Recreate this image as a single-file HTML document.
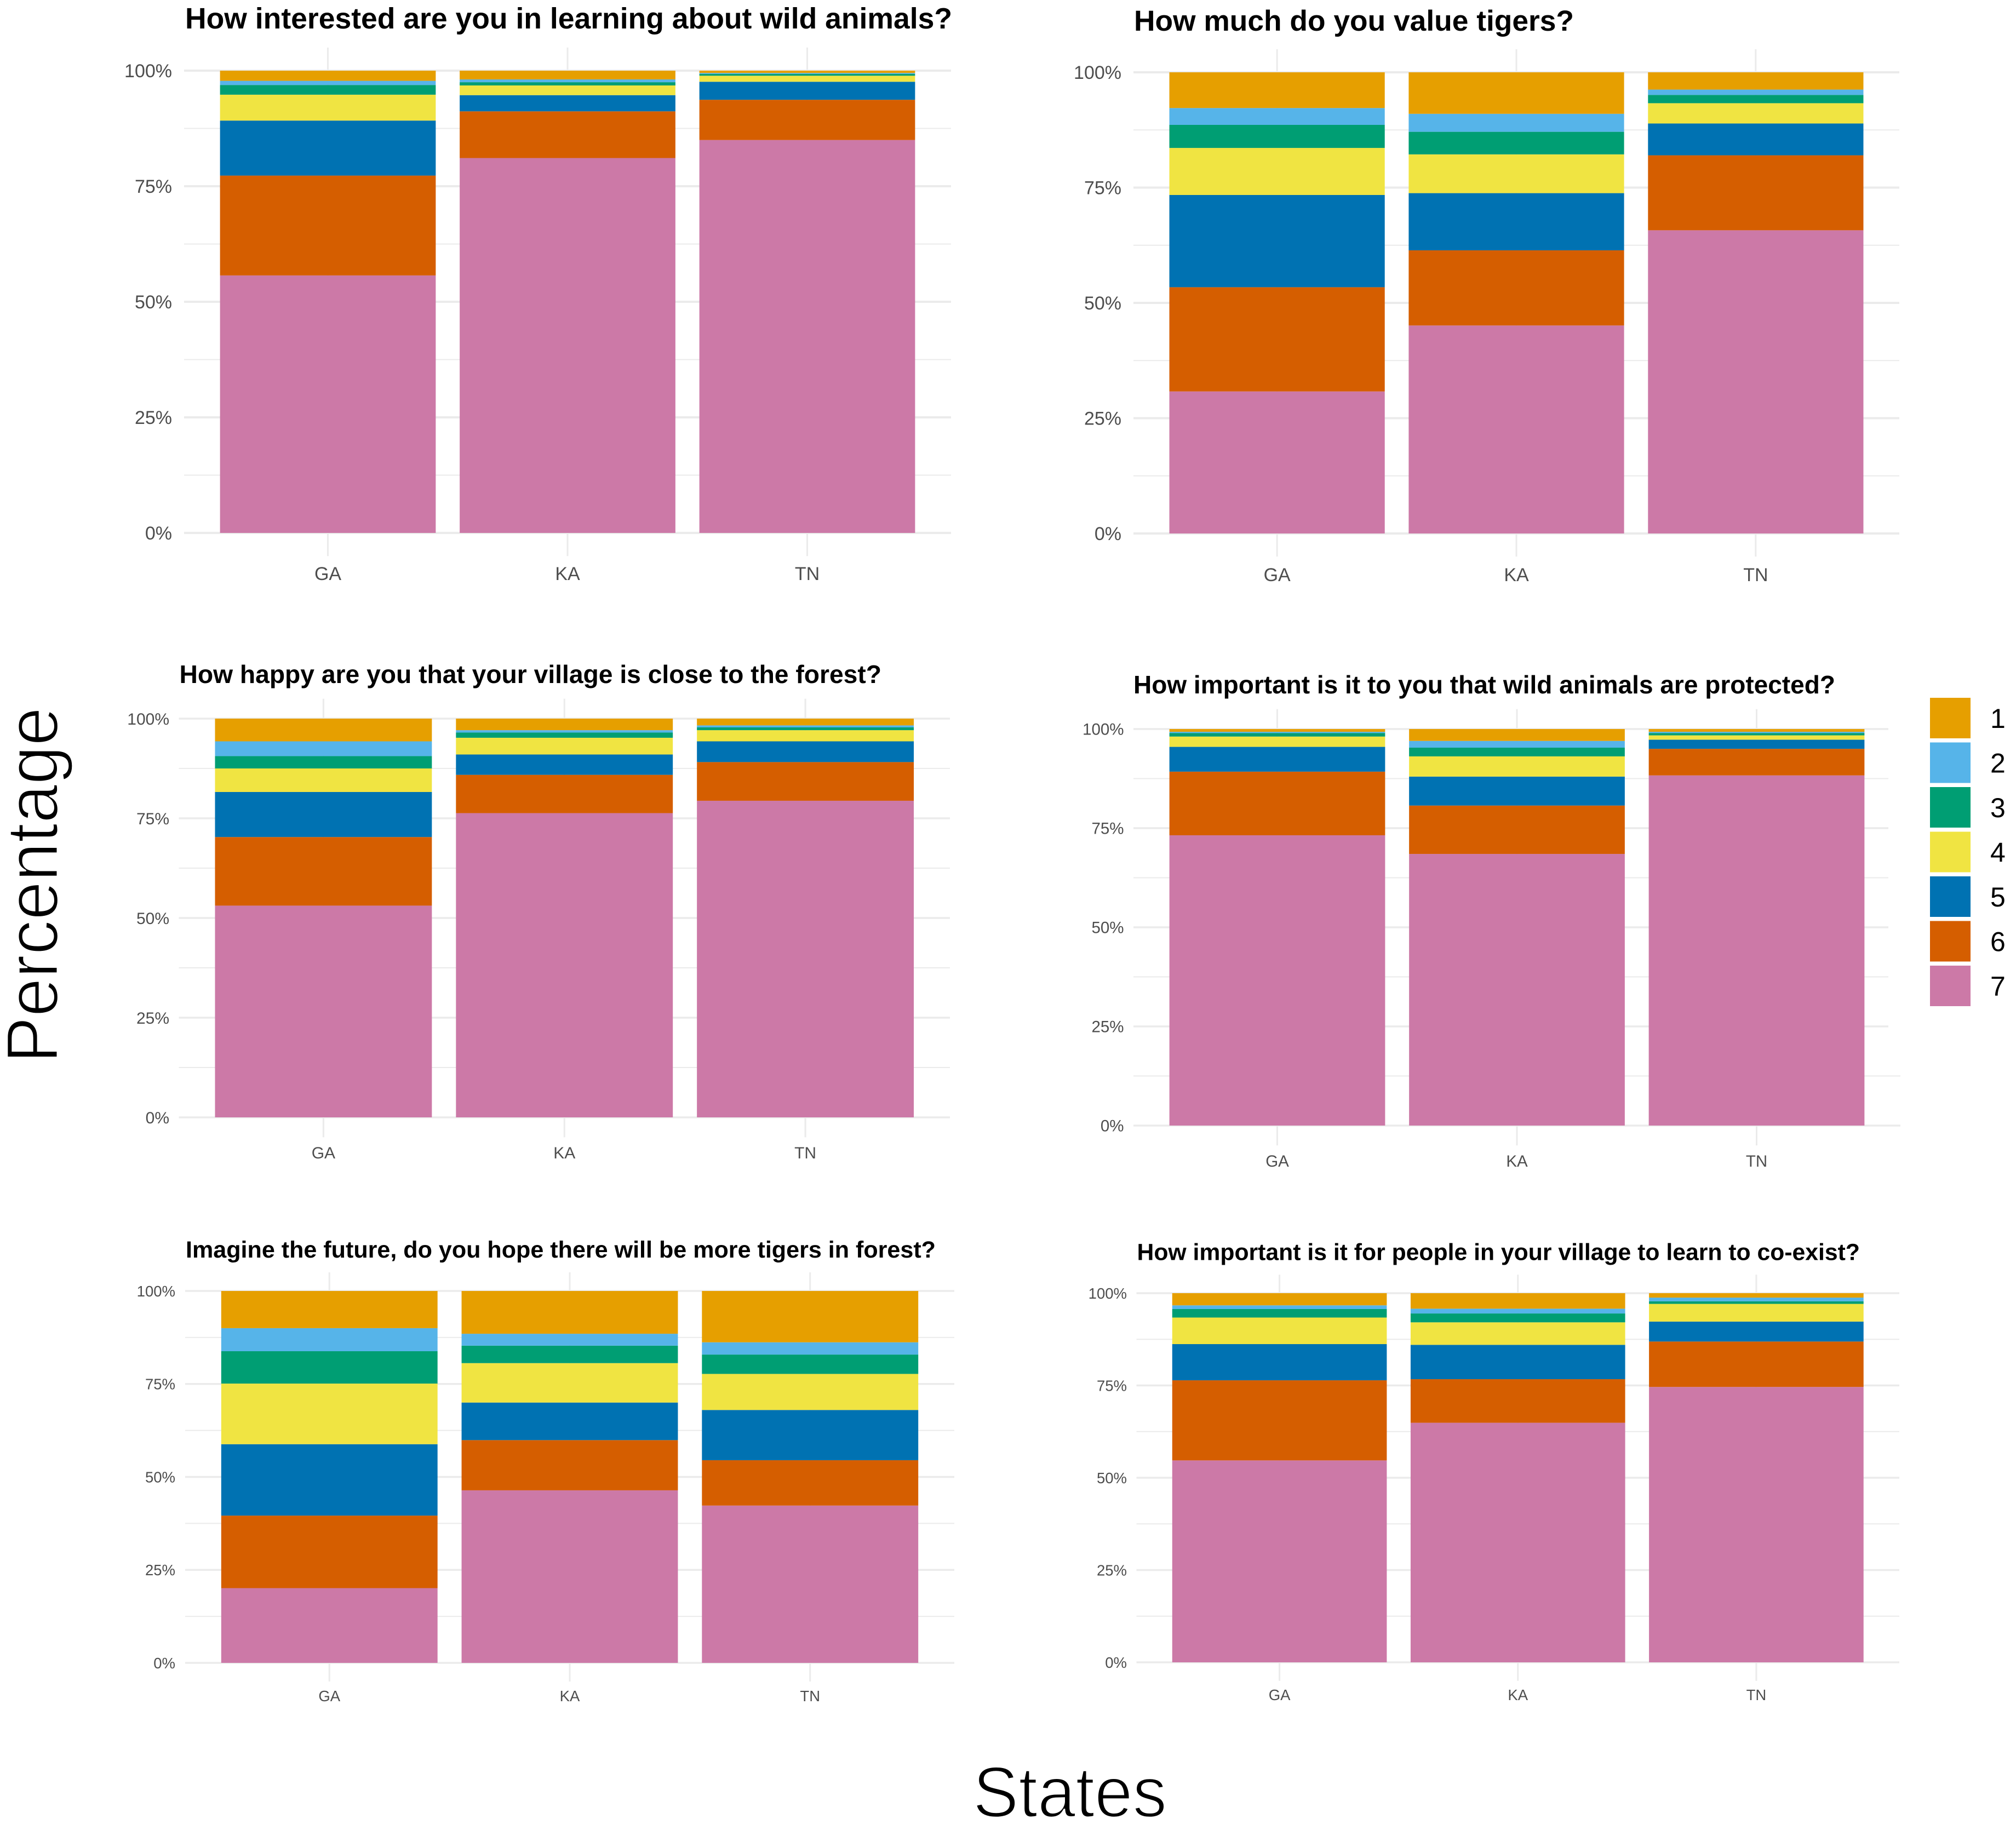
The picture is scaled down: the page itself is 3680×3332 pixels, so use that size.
<!DOCTYPE html>
<html lang="en">
<head>
<meta charset="utf-8">
<title>Attitudes towards wildlife by state</title>
<style>
html,body{margin:0;padding:0;background:#fff;}
svg{display:block;font-family:"Liberation Sans",Arial,sans-serif;}
</style>
</head>
<body>
<svg id="chart" xmlns="http://www.w3.org/2000/svg" width="3680" height="3332" viewBox="0 0 3680 3332">
<rect x="0" y="0" width="3680" height="3332" fill="#ffffff"/>
</svg>
<script>
const states = ['GA', 'KA', 'TN'];
const levels = ['1', '2', '3', '4', '5', '6', '7'];
const tickValues = [0, 25, 50, 75, 100];
const minorTickValues = [12.5, 37.5, 62.5, 87.5];
const tickLabels = ['0%', '25%', '50%', '75%', '100%'];
const levelColors = ['#E69F00', '#56B4E9', '#009E73', '#F0E442', '#0072B2', '#D55E00', '#CC79A7'];

const panelTitles = [
  'How interested are you in learning about wild animals?',
  'How much do you value tigers?',
  'How happy are you that your village is close to the forest?',
  'How important is it to you that wild animals are protected?',
  'Imagine the future, do you hope there will be more tigers in forest?',
  'How important is it for people in your village to learn to co-exist?'
];

// Percent share per response level, listed from level 7 (bottom of stack) to level 1 (top), per state.
const interestedShares = [
  [55.7, 21.6, 11.9, 5.6, 2.1, 0.9, 2.2],
  [81.1, 10.1, 3.5, 2.1, 0.7, 0.6, 1.9],
  [85.0, 8.7, 3.9, 1.3, 0.4, 0.2, 0.5]
];
const valueTigerShares = [
  [30.8, 22.6, 20.0, 10.2, 5.0, 3.65, 7.75],
  [45.1, 16.3, 12.4, 8.4, 4.9, 3.9, 9.0],
  [65.75, 16.25, 6.9, 4.4, 1.8, 1.15, 3.75]
];
const happyForestShares = [
  [53.1, 17.2, 11.3, 5.9, 3.1, 3.7, 5.7],
  [76.3, 9.6, 5.1, 4.2, 1.3, 0.6, 2.9],
  [79.4, 9.7, 5.2, 2.8, 0.7, 0.5, 1.7]
];
const protectedShares = [
  [73.2, 16.05, 6.25, 2.6, 0.9, 0.3, 0.7],
  [68.5, 12.2, 7.3, 5.1, 2.2, 1.7, 3.0],
  [88.3, 6.7, 2.3, 1.1, 0.6, 0.3, 0.7]
];
const futureTigerShares = [
  [20.1, 19.5, 19.2, 16.3, 8.7, 6.2, 10.0],
  [46.4, 13.5, 10.1, 10.6, 4.7, 3.2, 11.5],
  [42.3, 12.2, 13.5, 9.7, 5.2, 3.3, 13.8]
];
const coexistShares = [
  [54.7, 21.7, 9.8, 7.2, 2.3, 1.0, 3.3],
  [64.9, 11.8, 9.3, 6.1, 2.4, 1.3, 4.2],
  [74.6, 12.3, 5.4, 4.8, 0.7, 1.0, 1.2]
];
const panelShares = [interestedShares, valueTigerShares, happyForestShares, protectedShares, futureTigerShares, coexistShares];

// Page layout of each panel (not data).
const panelLayouts = [
  {l:336, r:1736, y0:973, y100:129, titleX:338, titleW:1400, titleY:52, titleFs:53.5, labelX:314, labelFs:34, xLabelY:1059, major:4},
  {l:2069, r:3467, y0:974, y100:132, titleX:2070, titleW:803, titleY:56, titleFs:53.3, labelX:2047, labelFs:34, xLabelY:1061, major:4},
  {l:326.5, r:1734, y0:2040, y100:1312, titleX:327.5, titleW:1281.5, titleY:1247, titleFs:46.2, labelX:309, labelFs:30, xLabelY:2115, major:3.5},
  {l:2069, r:3469, y0:2055, y100:1331, titleX:2069, titleW:1281, titleY:1266, titleFs:46, labelX:2051.5, labelFs:29.5, xLabelY:2130, major:3.5},
  {l:338, r:1742, y0:3036, y100:2357, titleX:339, titleW:1369, titleY:2296, titleFs:43, labelX:320, labelFs:27.5, xLabelY:3106, major:3.5},
  {l:2074.5, r:3467, y0:3035, y100:2361, titleX:2075.5, titleW:1319.5, titleY:2300.5, titleFs:42.7, labelX:2057, labelFs:27.5, xLabelY:3104, major:3.5}
];

const svgNS = 'http://www.w3.org/2000/svg';
const root = document.getElementById('chart');

function shape(parent, tag, props) {
  const node = document.createElementNS(svgNS, tag);
  for (const key in props) node.setAttribute(key, props[key]);
  parent.appendChild(node);
  return node;
}

function makeYScale(p) {
  return function (v) { return p.y0 - (v / 100) * (p.y0 - p.y100); };
}

function makeXScale(p) {
  const unit = (p.r - p.l) / 3.2;
  return {
    center: function (i) { return p.l + (0.6 + i) * unit; },
    width: 0.9 * unit
  };
}

function drawPanel(idx) {
  const p = panelLayouts[idx];
  const shares = panelShares[idx];
  const y = makeYScale(p);
  const x = makeXScale(p);
  const top = y(105);
  const bottom = y(-5);
  const panel = shape(root, 'g', {});
  
  

  minorTickValues.forEach(function (v) {
    const line = shape(panel, 'line', {x1: p.l, x2: p.r, y1: y(v), y2: y(v), stroke: '#ebebeb', 'stroke-width': 2});
    
    
  });
  tickValues.forEach(function (v) {
    const line = shape(panel, 'line', {x1: p.l, x2: p.r, y1: y(v), y2: y(v), stroke: '#ebebeb', 'stroke-width': p.major});
    
    
  });
  states.forEach(function (s, i) {
    const line = shape(panel, 'line', {x1: x.center(i), x2: x.center(i), y1: top, y2: bottom, stroke: '#ebebeb', 'stroke-width': 3});
    
    
  });

  states.forEach(function (s, i) {
    let cumulative = 0;
    shares[i].forEach(function (share, k) {
      const levelIndex = levels.length - 1 - k;
      const yTop = y(cumulative + share);
      const yBottom = y(cumulative);
      const bar = shape(panel, 'rect', {
        x: x.center(i) - x.width / 2,
        y: yTop,
        width: x.width,
        height: yBottom - yTop,
        fill: levelColors[levelIndex]
      });
      
      
      cumulative += share;
    });
  });

  tickValues.forEach(function (v, i) {
    const label = shape(panel, 'text', {x: p.labelX, y: y(v) + p.labelFs * 0.36, 'text-anchor': 'end', 'font-size': p.labelFs, fill: '#4d4d4d'});
    label.textContent = tickLabels[i];
    
    
  });
  states.forEach(function (s, i) {
    const label = shape(panel, 'text', {x: x.center(i), y: p.xLabelY, 'text-anchor': 'middle', 'font-size': p.labelFs, fill: '#4d4d4d'});
    label.textContent = s;
    
    
  });

  const title = shape(panel, 'text', {
    x: p.titleX, y: p.titleY, 'font-size': p.titleFs, 'font-weight': 'bold', fill: '#000000',
    textLength: p.titleW, lengthAdjust: 'spacingAndGlyphs'
  });
  title.textContent = panelTitles[idx];
  
  
}

panelTitles.forEach(function (t, i) { drawPanel(i); });

const legendBack = shape(root, 'rect', {x: 3447, y: 1240, width: 233, height: 660, fill: '#ffffff'});



const legend = shape(root, 'g', {});


levels.forEach(function (lev, i) {
  const keyTop = 1274 + i * 81.5;
  const key = shape(legend, 'rect', {x: 3523, y: keyTop, width: 74, height: 74, fill: levelColors[i]});
  
  
  const text = shape(legend, 'text', {x: 3633, y: keyTop + 55, 'font-size': 50, fill: '#000000'});
  text.textContent = lev;
  
  
});

const yTitle = shape(root, 'text', {
  transform: 'translate(105 1941) rotate(-90)', x: 0, y: 0, 'font-size': 134, fill: '#000000',
  stroke: '#ffffff', 'stroke-width': 3, textLength: 650, lengthAdjust: 'spacingAndGlyphs'
});
yTitle.textContent = 'Percentage';



const xTitle = shape(root, 'text', {
  x: 1776, y: 3317, 'font-size': 131, fill: '#000000',
  stroke: '#ffffff', 'stroke-width': 3, textLength: 354, lengthAdjust: 'spacingAndGlyphs'
});
xTitle.textContent = 'States';


</script>
</body>
</html>
